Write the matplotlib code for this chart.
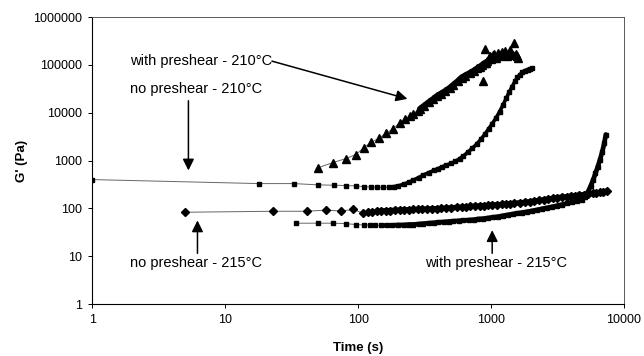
import matplotlib
matplotlib.use("Agg")
import matplotlib.pyplot as plt
from matplotlib.ticker import NullLocator

plt.rcParams['font.family'] = ['Liberation Sans', 'DejaVu Sans']

# no preshear - 210°C (small squares)
t_np210 = [1, 18, 33, 50, 66, 81, 96, 110, 125, 140, 155, 170, 185, 200, 220, 240, 260, 285,
           310, 340, 370, 400, 430, 460, 500, 540, 580, 620, 670, 720, 780, 840, 900, 960,
           1020, 1090, 1160, 1230, 1300, 1370, 1440, 1510, 1580, 1650, 1720, 1800, 1880,
           1960, 2040]
g_np210 = [400, 330, 330, 310, 305, 300, 295, 285, 280, 275, 275, 280, 285, 295, 320, 350, 390,
           440, 500, 560, 620, 680, 740, 800, 870, 960, 1100, 1250, 1500, 1800, 2200, 2800,
           3600, 4600, 5900, 7800, 10500, 14500, 20000, 27000, 35000, 45000, 55000, 63000,
           70000, 76000, 80000, 83000, 85000]

# with preshear - 210°C (triangles)
t_wp210 = [50, 65, 81, 96, 111, 125, 143, 162, 183, 207, 225, 245, 260, 280, 293, 315, 340,
           365, 390, 420, 450, 490, 520, 560, 600, 640, 690, 740, 790, 820, 860, 900]
g_wp210 = [710, 910, 1100, 1330, 1870, 2400, 2900, 3700, 4600, 6200, 7500, 8500, 9500, 11000,
           12000, 14000, 16500, 19000, 22000, 25000, 28000, 33000, 38000, 45000, 54000,
           60000, 67000, 75000, 85000, 90000, 100000, 110000]
# scattered cloud of triangles at the end of that run
t_wp210_end = [870, 900, 920, 940, 960, 980, 1000, 1030, 1060, 1090, 1120, 1150, 1180, 1210,
               1250, 1280, 1320, 1350, 1390, 1420, 1460, 1500, 1530, 1560, 1600]
g_wp210_end = [46000, 220000, 110000, 120000, 140000, 150000, 130000, 160000, 170000, 140000,
               180000, 150000, 170000, 190000, 160000, 200000, 150000, 170000, 210000, 180000,
               160000, 290000, 170000, 150000, 140000]

# no preshear - 215°C (diamonds)
t_np215 = [5, 23, 41, 57, 75, 92, 108, 118, 128, 138, 150, 162, 175, 190, 205, 220, 240, 260,
           280, 300, 330, 360, 390, 420, 460, 500, 550, 600, 650, 700, 760, 820, 880, 950,
           1020, 1100, 1200, 1300, 1400, 1500, 1650, 1800, 1950, 2100, 2300, 2500, 2700,
           2900, 3150, 3400, 3700, 4000, 4300, 4600, 5000, 5400, 5800, 6200, 6600, 7000, 7400]
g_np215 = [83, 87, 87, 92, 88, 95, 80, 84, 86, 88, 88, 90, 90, 92, 92, 93, 94, 95, 95, 96, 97,
           98, 99, 100, 102, 103, 105, 106, 108, 110, 111, 113, 114, 116, 117, 119, 121, 123,
           125, 128, 131, 134, 138, 142, 147, 152, 157, 162, 168, 172, 176, 180, 185, 190,
           195, 200, 205, 210, 215, 220, 230]

# with preshear - 215°C (squares)
t_wp215 = [34, 50, 65, 81, 96, 110, 122, 135, 150, 165, 180, 200, 220, 240, 260, 285, 310,
           340, 370, 400, 440, 480, 520, 570, 620, 680, 740, 800, 870, 950, 1030, 1120, 1220,
           1330, 1450, 1580, 1720, 1870, 2040, 2220, 2420, 2640, 2880, 3140, 3420, 3730,
           4060, 4420, 4800, 5100, 5350, 5600, 5850, 6100, 6350, 6600, 6850, 7100, 7300]
g_wp215 = [49, 49, 49, 48, 46, 45, 45, 44, 44, 44, 44, 45, 45, 46, 46, 47, 48, 49, 50, 51, 52,
           53, 54, 55, 56, 57, 58, 60, 61, 63, 65, 67, 70, 73, 76, 79, 82, 85, 89, 93, 98, 103,
           108, 114, 120, 127, 134, 142, 150, 175, 220, 290, 390, 540, 750, 1050, 1500, 2300,
           3500]

x_ticks = [1, 10, 100, 1000, 10000]
y_ticks = [1, 10, 100, 1000, 10000, 100000, 1000000]

fig = plt.figure(figsize=(6.44, 3.56), dpi=100)
ax = fig.add_axes([0.143, 0.146, 0.826, 0.806])

# (times, values, marker, marker size, index where the points pile up, band width)
series = [
    (t_np210, g_np210, "s", 2.7, 11, 2.6),
    (t_wp210, g_wp210, "^", 5.5, 14, 4.5),
    (t_np215, g_np215, "D", 4.2, 9, 3.8),
    (t_wp215, g_wp215, "s", 3.4, 8, 3.4),
]

for t, g, mk, ms, dense, bw in series:
    ax.plot(t, g, color="0.4", linewidth=0.7, zorder=1)
    ax.plot(t[dense:], g[dense:], color="black", linewidth=bw, zorder=2,
            solid_capstyle="round", solid_joinstyle="round")
    ax.plot(t, g, ls="none", marker=mk, ms=ms, color="black", zorder=3)

ax.plot(t_wp210_end, g_wp210_end, ls="none", marker="^", ms=5.5, color="black", zorder=3)

ax.set_xscale("log")
ax.set_yscale("log")
ax.set_xlim(1, 10000)
ax.set_ylim(1, 1000000)
ax.set_xticks(x_ticks)
ax.set_xticklabels([str(v) for v in x_ticks])
ax.set_yticks(y_ticks)
ax.set_yticklabels([str(v) for v in y_ticks])
ax.xaxis.set_minor_locator(NullLocator())
ax.yaxis.set_minor_locator(NullLocator())
ax.tick_params(direction="out", length=3, width=0.7, labelsize=9, pad=4)

for side in ["left", "bottom"]:
    ax.spines[side].set_color("black")
    ax.spines[side].set_linewidth(0.8)
for side in ["top", "right"]:
    ax.spines[side].set_color("0.35")
    ax.spines[side].set_linewidth(0.7)

ax.set_xlabel("Time (s)", fontsize=9.5, fontweight="bold", labelpad=12)
ax.set_ylabel("G' (Pa)", fontsize=9.5, fontweight="bold", labelpad=4)

arrow = dict(arrowstyle="-|>", color="black", lw=1.1, mutation_scale=17, shrinkA=0, shrinkB=0)
fs = 10.5

ax.text(1.93, 120000, "with preshear - 210°C", fontsize=fs, va="center", ha="left")
ax.annotate("", xy=(235, 19500), xytext=(22.5, 120000), arrowprops=arrow)

ax.text(1.93, 31600, "no preshear - 210°C", fontsize=fs, va="center", ha="left")
ax.annotate("", xy=(5.3, 620), xytext=(5.3, 17800), arrowprops=arrow)

ax.text(1.93, 7.2, "no preshear - 215°C", fontsize=fs, va="center", ha="left")
ax.annotate("", xy=(6.2, 56), xytext=(6.2, 11.5), arrowprops=arrow)

ax.text(318, 7.2, "with preshear - 215°C", fontsize=fs, va="center", ha="left")
ax.annotate("", xy=(1020, 35), xytext=(1020, 11.5), arrowprops=arrow)

fig.savefig("out.png", dpi=100)
